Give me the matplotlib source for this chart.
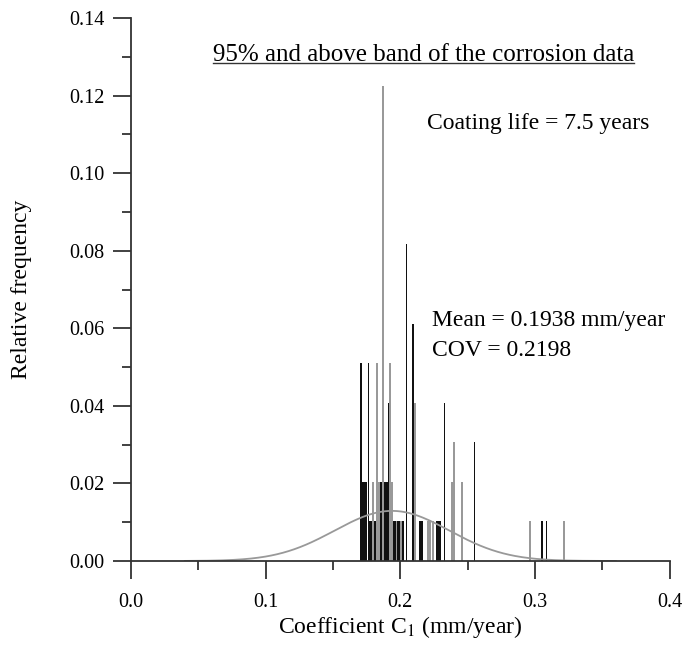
import matplotlib.pyplot as plt
import numpy as np
from matplotlib.lines import Line2D

plt.rcParams['font.family'] = 'Liberation Serif'
plt.rcParams['mathtext.fontset'] = 'stix'

n_total = 98
mean_c1 = 0.1938
cov_c1 = 0.2198

# coefficient C1 (mm/year) and counts, two shades of bars
c1_black = [0.1705, 0.1716, 0.1727, 0.1738, 0.1749, 0.1764, 0.1776, 0.1787,
            0.1811, 0.1822, 0.1859, 0.1872, 0.1885, 0.1898, 0.1912, 0.1950,
            0.1962, 0.1981, 0.1996, 0.2019, 0.2046, 0.2091, 0.2148, 0.2160,
            0.2271, 0.2283, 0.2295, 0.2328, 0.2551, 0.3055, 0.3085]
cnt_black = [5, 2, 2, 2, 2, 5, 1, 1,
             1, 1, 2, 2, 2, 2, 4, 1,
             1, 1, 1, 1, 8, 6, 1, 1,
             1, 1, 1, 4, 3, 1, 1]
c1_gray = [0.1798, 0.1828, 0.1840, 0.1870, 0.1922, 0.1937, 0.1972, 0.2008,
           0.2110, 0.2204, 0.2223, 0.2241, 0.2387, 0.2397, 0.2456, 0.2961,
           0.3213]
cnt_gray = [2, 5, 2, 12, 5, 2, 1, 1,
            4, 1, 1, 1, 2, 3, 2, 1,
            1]

freq_black = np.array(cnt_black) / n_total
freq_gray = np.array(cnt_gray) / n_total

fig = plt.figure(figsize=(6.89, 6.46), dpi=100)
ax = fig.add_axes([0.190, 0.1316, 0.782, 0.8404])

ax.bar(c1_black, freq_black, width=0.0014, color='#111111', linewidth=0)
ax.bar(c1_gray, freq_gray, width=0.0014, color='#999999', linewidth=0)

# fitted normal curve scaled to the bar width
sd = mean_c1 * cov_c1
xs = np.linspace(0.04, 0.36, 300)
pdf = np.exp(-0.5 * ((xs - mean_c1) / sd) ** 2) / (sd * np.sqrt(2 * np.pi))
ax.plot(xs, pdf * 0.00138, color='#999999', lw=1.3)

ax.set_xlim(0, 0.4)
ax.set_ylim(0, 0.14)
ax.set_xticks(np.arange(0, 0.41, 0.1))
ax.set_xticks(np.arange(0.05, 0.4, 0.1), minor=True)
ax.set_yticks(np.arange(0, 0.141, 0.02))
ax.set_yticks(np.arange(0.01, 0.14, 0.02), minor=True)
ax.xaxis.set_major_formatter(plt.FormatStrFormatter('%.1f'))
ax.yaxis.set_major_formatter(plt.FormatStrFormatter('%.2f'))
for s in ['top', 'right']:
    ax.spines[s].set_visible(False)
for s in ['left', 'bottom']:
    ax.spines[s].set_color('#333333')
    ax.spines[s].set_linewidth(1.3)
ax.tick_params(which='major', length=13, width=1.3, color='#333333',
               labelsize=14.5)
ax.tick_params(axis='y', which='major', pad=6)
ax.tick_params(axis='x', which='major', pad=10)
ax.tick_params(which='minor', length=6.5, width=1.3, color='#333333')

ax.set_xlabel('Coefficient C$_1$ (mm/year)', fontsize=17)
ax.set_ylabel('Relative frequency', fontsize=17)
ax.xaxis.set_label_coords(0.5, -0.097)
ax.yaxis.set_label_coords(-0.184, 0.5)

title = ax.text(0.2174, 0.1304, '95% and above band of the corrosion data',
                fontsize=18, ha='center', va='center')
ax.text(0.2197, 0.1127, 'Coating life = 7.5 years', fontsize=17, va='center')
ax.text(0.2234, 0.0619, 'Mean = 0.1938 mm/year', fontsize=17, va='center')
ax.text(0.2234, 0.0544, 'COV = 0.2198', fontsize=17, va='center')

# underline the heading
fig.canvas.draw()
bb = title.get_window_extent().transformed(fig.transFigure.inverted())
fig.add_artist(Line2D([bb.x0, bb.x1], [bb.y0 + 0.005, bb.y0 + 0.005],
                      color='#333333', lw=1))

fig.savefig('out.png', dpi=100)
